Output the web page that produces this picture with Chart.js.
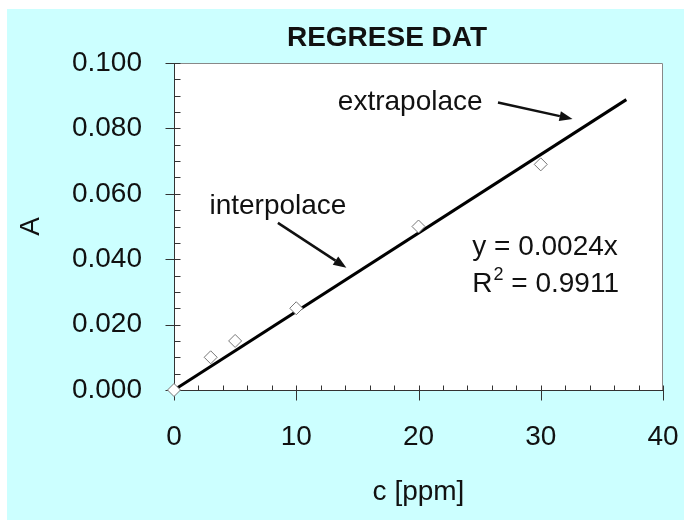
<!DOCTYPE html>
<html>
<head>
<meta charset="utf-8">
<script src="https://cdn.jsdelivr.net/npm/chart.js@4.4.0/dist/chart.umd.min.js"></script>
<style>
  html, body { margin: 0; padding: 0; background: #fff; }
  #wrap { width: 684px; height: 520px; }
</style>
</head>
<body>
<div id="wrap"><canvas id="regChart" width="684" height="520"></canvas></div>
<script>
// calibration points
const concentrations = [0, 3, 5, 10, 20, 30];
const absorbances = [0.000, 0.010, 0.015, 0.025, 0.050, 0.069];

// regression through the origin, extended to 37 ppm
const slope = 0.0024;
const rSquared = '0.9911';
const trendX = [0, 37];

const xTicks = [0, 10, 20, 30, 40];
const yTicks = [0.000, 0.020, 0.040, 0.060, 0.080, 0.100];

const chartTitle = 'REGRESE DAT';

const FONT = '"Liberation Sans", Arial, sans-serif';
const INK = '#111';

Chart.defaults.font.family = FONT;
Chart.defaults.font.size = 28;
Chart.defaults.color = INK;

// page background, plot frame, tick marks and the text notes
const framePlugin = {
    id: 'frame',
    beforeDraw(chart) {
        const ctx = chart.ctx;
        const a = chart.chartArea;
        ctx.save();
        ctx.fillStyle = '#ffffff';
        ctx.fillRect(0, 0, chart.width, chart.height);
        ctx.fillStyle = '#ccffff';
        ctx.fillRect(7, 9, chart.width - 7, chart.height - 9);
        ctx.fillStyle = '#ffffff';
        ctx.fillRect(a.left, a.top, a.right - a.left, a.bottom - a.top);
        ctx.restore();
    },
    beforeDatasetsDraw(chart) {
        const ctx = chart.ctx;
        const a = chart.chartArea;
        const xs = chart.scales.x;
        const ys = chart.scales.y;
        ctx.save();
        ctx.lineWidth = 1;
        // top and right edges
        ctx.strokeStyle = '#888';
        ctx.beginPath();
        ctx.moveTo(a.left, a.top + 0.5);
        ctx.lineTo(a.right - 0.5, a.top + 0.5);
        ctx.lineTo(a.right - 0.5, a.bottom);
        ctx.stroke();
        // axes
        ctx.strokeStyle = '#333';
        ctx.beginPath();
        ctx.moveTo(a.left + 0.5, a.top);
        ctx.lineTo(a.left + 0.5, a.bottom + 0.5);
        ctx.lineTo(a.right, a.bottom + 0.5);
        ctx.stroke();

        ctx.beginPath();
        // y ticks: every 0.005, majors every 0.020 cross the axis
        for (let i = 0; i <= 20; i++) {
            const py = Math.round(ys.getPixelForValue(i * 0.005)) + 0.5;
            const major = i % 4 === 0;
            ctx.moveTo(a.left + 0.5 - (major ? 9 : 0), py);
            ctx.lineTo(a.left + 0.5 + 6, py);
        }
        // x ticks: every 2 ppm, majors every 10 hang below the axis
        for (let i = 0; i <= 20; i++) {
            const px = Math.round(xs.getPixelForValue(i * 2)) + 0.5;
            const major = i % 5 === 0;
            ctx.moveTo(px, a.bottom + 0.5 - 5);
            ctx.lineTo(px, a.bottom + 0.5 + (major ? 10 : 0));
        }
        ctx.stroke();
        ctx.restore();
    },
    afterDraw(chart) {
        const ctx = chart.ctx;
        const xs = chart.scales.x;
        const ys = chart.scales.y;
        const X = v => xs.getPixelForValue(v);
        const Y = v => ys.getPixelForValue(v);

        function arrow(x1, y1, x2, y2) {
            const ang = Math.atan2(y2 - y1, x2 - x1);
            const len = 13, half = 5;
            const bx = x2 - len * Math.cos(ang), by = y2 - len * Math.sin(ang);
            ctx.beginPath();
            ctx.moveTo(x1, y1);
            ctx.lineTo(bx, by);
            ctx.lineWidth = 2.5;
            ctx.stroke();
            ctx.beginPath();
            ctx.moveTo(x2, y2);
            ctx.lineTo(bx + half * Math.sin(ang), by - half * Math.cos(ang));
            ctx.lineTo(bx - half * Math.sin(ang), by + half * Math.cos(ang));
            ctx.closePath();
            ctx.fill();
        }

        ctx.save();
        ctx.fillStyle = INK;
        ctx.strokeStyle = INK;
        ctx.textBaseline = 'middle';

        // heading, sits a little left of the plot centre
        ctx.font = 'bold 28px ' + FONT;
        ctx.textAlign = 'center';
        ctx.fillText(chartTitle, 387, 38);

        ctx.font = '28px ' + FONT;
        ctx.textAlign = 'left';

        ctx.fillText('extrapolace', X(13.4), Y(0.0879));
        arrow(X(26.5), Y(0.0879), X(32.6), Y(0.0829));

        ctx.fillText('interpolace', X(2.9), Y(0.0561));
        arrow(X(8.5), Y(0.0511), X(14.1), Y(0.0374));

        // regression equation and fit quality
        const ex = X(24.4);
        ctx.fillText('y = ' + slope.toFixed(4) + 'x', ex, Y(0.0435));
        const ry = Y(0.0322);
        ctx.fillText('R', ex, ry);
        let w = ctx.measureText('R').width;
        ctx.font = '18px ' + FONT;
        ctx.fillText('2', ex + w + 1, ry - 10);
        w += ctx.measureText('2').width + 1;
        ctx.font = '28px ' + FONT;
        ctx.fillText(' = ' + rSquared, ex + w, ry);
        ctx.restore();
    }
};

const ctx = document.getElementById('regChart').getContext('2d');

new Chart(ctx, {
    type: 'scatter',
    data: {
        datasets: [
            {
                label: 'regrese',
                data: trendX.map(x => ({ x: x, y: slope * x })),
                showLine: true,
                borderColor: '#000',
                borderWidth: 3,
                pointRadius: 0,
                order: 2
            },
            {
                label: 'kalibrace',
                data: concentrations.map((c, i) => ({ x: c, y: absorbances[i] })),
                pointStyle: 'rectRot',
                pointRadius: 6.5,
                backgroundColor: '#fff',
                borderColor: '#777',
                borderWidth: 1,
                clip: false,
                order: 1
            }
        ]
    },
    options: {
        responsive: false,
        animation: false,
        layout: { padding: { left: 7, right: 21, top: 63, bottom: 0 } },
        plugins: {
            legend: { display: false },
            tooltip: { enabled: false },
            title: { display: false }
        },
        scales: {
            x: {
                type: 'linear',
                min: 0,
                max: 40,
                afterBuildTicks: s => { s.ticks = xTicks.map(v => ({ value: v })); },
                afterFit: s => { s.height = 130; s.paddingLeft = 0; s.paddingRight = 0; },
                grid: { display: false },
                border: { display: false },
                ticks: { padding: 22, maxRotation: 0 },
                title: { display: true, text: 'c [ppm]', padding: { top: 0, bottom: 11 } }
            },
            y: {
                type: 'linear',
                min: 0,
                max: 0.1,
                afterBuildTicks: s => { s.ticks = yTicks.map(v => ({ value: v })); },
                afterFit: s => { s.width = 167; s.paddingTop = 0; s.paddingBottom = 0; },
                grid: { display: false },
                border: { display: false },
                ticks: { padding: 24, callback: v => v.toFixed(3) },
                title: { display: true, text: 'A', padding: { top: 7, bottom: 0 } }
            }
        }
    },
    plugins: [framePlugin]
});
</script>
</body>
</html>
